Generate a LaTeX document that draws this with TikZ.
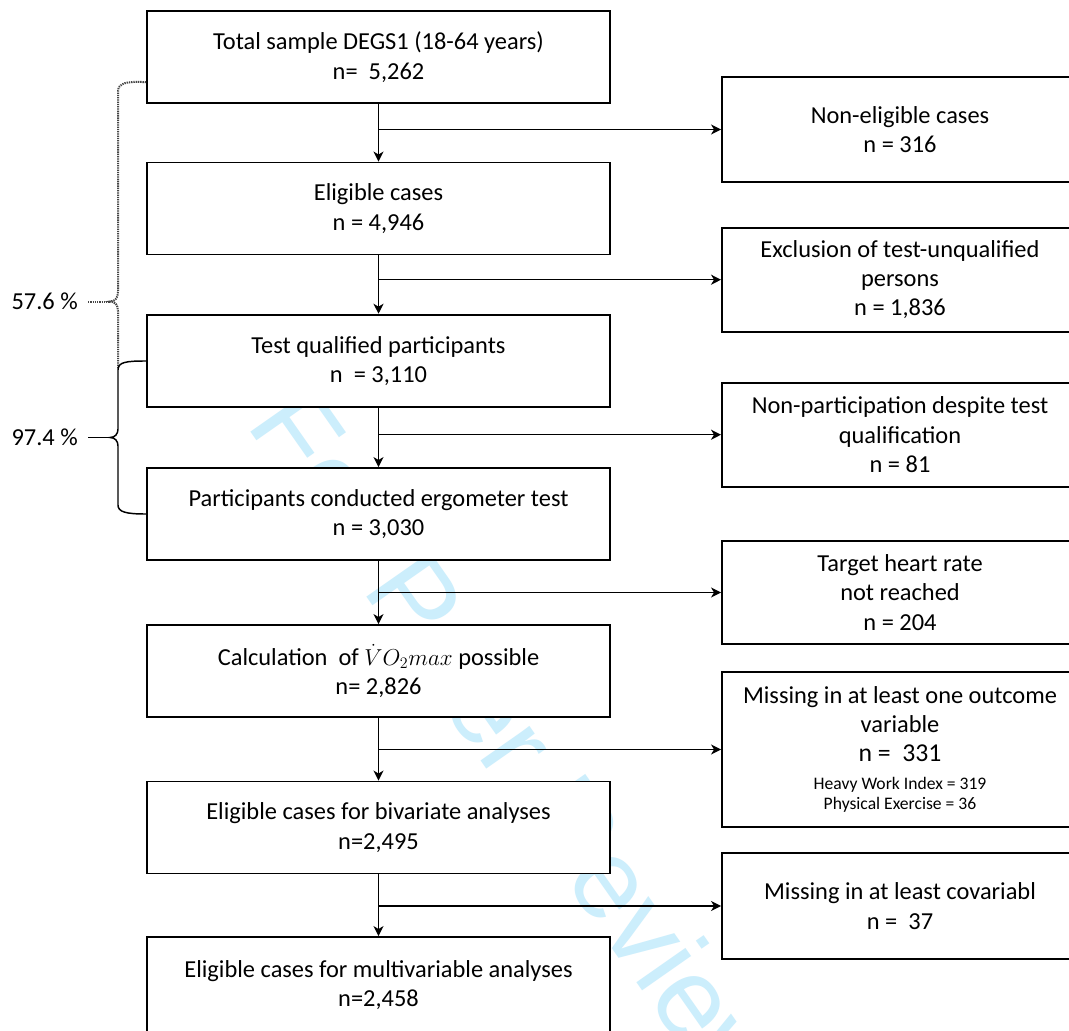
\documentclass[tikz,border=0pt]{standalone}
\usepackage{fontspec}
\setmainfont{Carlito}
\newfontfamily\wmfont{Liberation Sans}
\usetikzlibrary{arrows.meta,calc}
\definecolor{wmblue}{RGB}{204,238,252}
\definecolor{dotgray}{RGB}{70,70,70}
\newcommand\wmsmall{\fontsize{13.2}{15}\selectfont}
\newcommand\wmbig{\fontsize{19.3}{22}\selectfont}
\begin{document}
\begin{tikzpicture}[x=0.75pt,y=-0.75pt,
  txt/.style={font=\fontsize{18.3}{22}\selectfont},
  lbox/.style={txt,draw=black,line width=1.4pt,fill=white,align=center,inner sep=2pt,minimum width=347.25pt},
  rbox/.style={txt,draw=black,line width=1.4pt,fill=white,align=center,inner sep=2pt,minimum width=267pt},
  arr/.style={draw=black,line width=1.1pt,-{Stealth[length=7.5pt,width=7.5pt,inset=2.2pt]}},
  brace/.style={draw=black,line width=1.1pt},
  dotbrace/.style={draw=dotgray,line width=1.5pt,dash pattern=on 1pt off 0.7pt},
  pct/.style={txt,inner ysep=0pt,inner xsep=7.5pt,anchor=east},
  wm/.style={rotate=-55,text=wmblue,font=\wmfont\fontsize{85}{85}\selectfont,inner sep=0pt},
]
\useasboundingbox (0,0) rectangle (1069,1030);
\fill[white] (0,0) rectangle (1069,1030);
\clip (0,0) rectangle (1069,1030);

% watermark
\node[wm] (wm) at (521,747) {For Peer Review};

% left column
\node[lbox,minimum height=69pt] (b1) at (378.5,57) {Total sample DEGS1 (18-64 years)\\n=\ \ 5,262};
\node[lbox,minimum height=69pt] (b2) at (378.5,208.5) {Eligible cases\\n = 4,946};
\node[lbox,minimum height=69.5pt] (b3) at (378.5,361) {Test qualified participants\\n\ \ = 3,110};
\node[lbox,minimum height=69pt] (b4) at (378.5,514) {Participants conducted ergometer test\\n = 3,030};
\node[lbox,minimum height=69pt] (b5) at (378.5,671) {Calculation\ \ of $\dot{V}O_2max$ possible\\n= 2,826};
\node[lbox,minimum height=69pt] (b6) at (378.5,827.5) {Eligible cases for bivariate analyses\\n=2,495};
\node[lbox,minimum height=72pt] (b7) at (378.5,985) {Eligible cases for multivariable analyses\\n=2,458};

% right column
\node[rbox,minimum height=78.3pt] (r1) at (900,129.5) {Non-eligible cases\\n = 316};
\node[rbox,minimum height=78pt] (r2) at (900,279.7) {Exclusion of test-unqualified\\persons\\n = 1,836};
\node[rbox,minimum height=78pt] (r3) at (900,434.7) {Non-participation despite test\\qualification\\n = 81};
\node[rbox,minimum height=77.7pt] (r4) at (900,592.5) {Target heart rate\\not reached\\n = 204};
\node[rbox,minimum height=116.5pt] (r5) at (900,749.5) {Missing in at least one outcome\\variable\\\wmbig n =\ \ 331\\[-1.5pt]\wmsmall Heavy Work Index = 319\\[-6.5pt]\wmsmall Physical Exercise = 36};
\node[rbox,minimum height=79.5pt] (r6) at (900,906) {Missing in at least covariabl\\n =\ \ 37};

% connectors
\foreach \a/\b/\r in {b1/b2/r1,b2/b3/r2,b3/b4/r3,b4/b5/r4,b5/b6/r5,b6/b7/r6}{
  \draw[arr] (\a.south) -- (\b.north);
  \draw[arr] (\a.south |- \r.west) -- (\r.west);
}

% dotted brace (57.6 %)
\coordinate (d0) at ([yshift=16.3pt]b1.south west);
\coordinate (t1) at (110,301.5);
\draw[dotbrace] (d0) .. controls (126,81) and (118,83) .. (118,92) -- (118,292)
  .. controls (118,298) and (115,301.5) .. (t1)
  .. controls (115,301.5) and (118,305) .. (118,311) -- (118,368);
\node[pct] (p1) at (88,301.5) {57.6 \%};
\draw[dotbrace] (p1.east) -- (t1);

% solid brace (97.4 %)
\coordinate (t2) at (110,437.5);
\draw[brace] (b3.west) .. controls (126,361) and (118,362) .. (118,370) -- (118,429)
  .. controls (118,434) and (115,437.5) .. (t2)
  .. controls (115,437.5) and (118,441) .. (118,446) -- (118,505)
  .. controls (118,512) and (126,514) .. (b4.west);
\node[pct] (p2) at (88,437.5) {97.4 \%};
\draw[brace] (p2.east) -- (t2);
\end{tikzpicture}
\end{document}
